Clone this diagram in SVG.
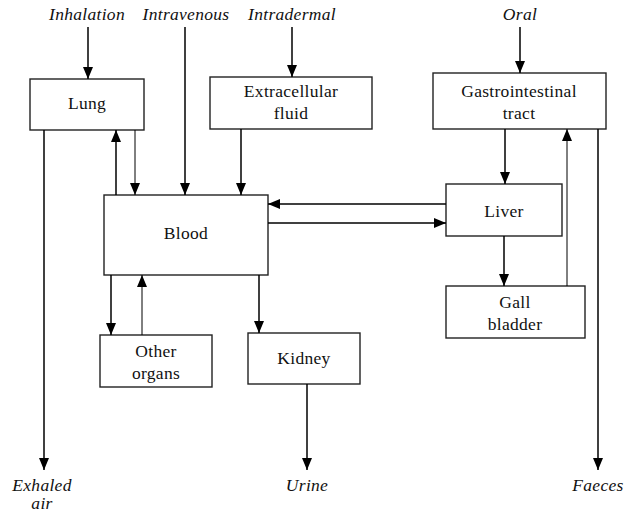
<svg xmlns="http://www.w3.org/2000/svg" width="626" height="514" viewBox="0 0 626 514">
<defs>
<marker id="ah" markerUnits="userSpaceOnUse" markerWidth="12" markerHeight="12" viewBox="0 0 12 12" refX="12" refY="6" orient="auto">
<path d="M0,1 L12,6 L0,11 Z" fill="#000"/>
</marker>
</defs>
<style>
rect{fill:#fff;stroke:#222;stroke-width:1.4}
text{font-family:"Liberation Serif","Times New Roman",serif;font-size:17.5px;text-anchor:middle;fill:#111;letter-spacing:0.3px}
.it{font-style:italic}
.c line{stroke:#000;stroke-width:1.5;marker-end:url(#ah)}
.c line.t{stroke-width:1}
</style>
<g id="labels">
<text class="it" x="87" y="20">Inhalation</text>
<text class="it" x="186" y="20">Intravenous</text>
<text class="it" x="292" y="20">Intradermal</text>
<text class="it" x="520" y="20">Oral</text>
<text class="it" x="42" y="491">Exhaled</text>
<text class="it" x="42" y="509">air</text>
<text class="it" x="307" y="491">Urine</text>
<text class="it" x="598" y="491">Faeces</text>
</g>
<g id="lung"><rect x="30" y="79" width="114" height="51"/><text x="87" y="109">Lung</text></g>
<g id="ecf"><rect x="210" y="77" width="162" height="52"/><text x="291" y="97">Extracellular</text><text x="291" y="119">fluid</text></g>
<g id="gi"><rect x="433" y="73" width="173" height="56"/><text x="519" y="97">Gastrointestinal</text><text x="519" y="119">tract</text></g>
<g id="blood"><rect x="104" y="195" width="164" height="80"/><text x="186" y="239">Blood</text></g>
<g id="liver"><rect x="446" y="184" width="116" height="52"/><text x="504" y="217">Liver</text></g>
<g id="gall"><rect x="446" y="286" width="139" height="52"/><text x="515" y="308">Gall</text><text x="515" y="330">bladder</text></g>
<g id="other"><rect x="100" y="335" width="112" height="52"/><text x="156" y="357">Other</text><text x="156" y="379">organs</text></g>
<g id="kidney"><rect x="248" y="333" width="112" height="51"/><text x="304" y="364">Kidney</text></g>
<g class="c" id="connectors">
<line x1="88" y1="27" x2="88" y2="79"/>
<line x1="185" y1="27" x2="185" y2="195"/>
<line x1="292" y1="27" x2="292" y2="77"/>
<line x1="520" y1="27" x2="520" y2="73"/>
<line x1="44" y1="130" x2="44" y2="470"/>
<line x1="116" y1="195" x2="116" y2="130"/>
<line class="t" x1="135" y1="130" x2="135" y2="195"/>
<line x1="241" y1="129" x2="241" y2="195"/>
<line x1="446" y1="204" x2="268" y2="204"/>
<line x1="268" y1="223" x2="446" y2="223"/>
<line x1="111" y1="275" x2="111" y2="335"/>
<line class="t" x1="142" y1="335" x2="142" y2="275"/>
<line x1="259" y1="275" x2="259" y2="333"/>
<line x1="307" y1="384" x2="307" y2="470"/>
<line x1="505" y1="129" x2="505" y2="184"/>
<line x1="504" y1="236" x2="504" y2="286"/>
<line class="t" x1="567" y1="286" x2="567" y2="129"/>
<line x1="598" y1="129" x2="598" y2="470"/>
</g>
</svg>
